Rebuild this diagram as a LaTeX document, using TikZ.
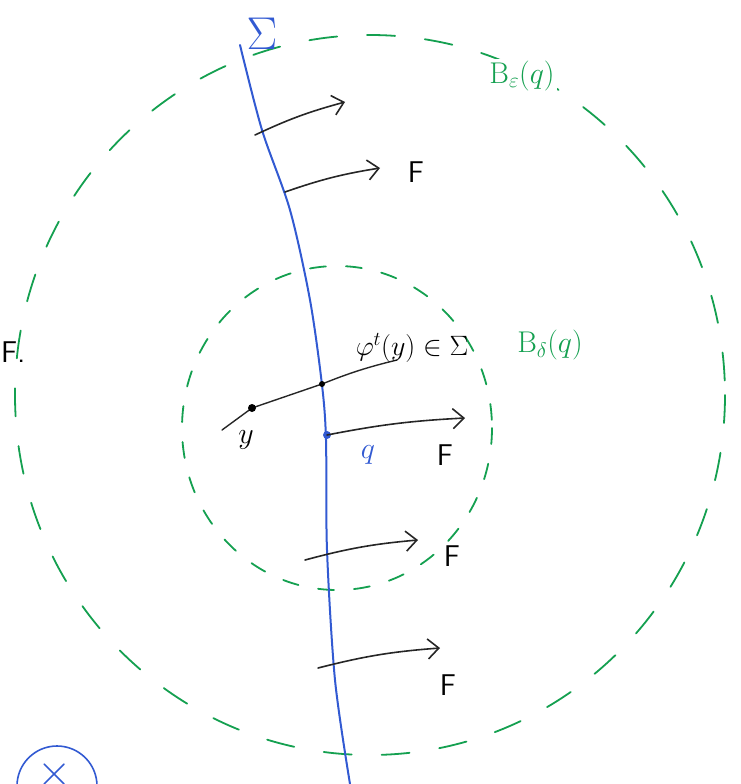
\RequirePackage{fix-cm}
\documentclass[tikz,border=0pt]{standalone}
\usetikzlibrary{arrows.meta}
\definecolor{sigblue}{RGB}{50,90,210}
\definecolor{ballgreen}{RGB}{20,160,80}
\begin{document}
\begin{tikzpicture}[x=1pt,y=-1pt,line cap=round,
  ball/.style={ballgreen,line width=1.8pt,dash pattern=on 28pt off 30pt},
  flow/.style={black!85,line width=1.6pt,-{Straight Barb[length=11pt,width=20pt]}},
  lab/.style={font=\fontsize{30}{32}\selectfont},
  flab/.style={font=\fontsize{30}{32}\selectfont\sffamily}]
\useasboundingbox (0,0) rectangle (740,784);
\clip (0,0) rectangle (740,784);
% the two balls round q
\draw[ball] (370,395) ellipse (355 and 360);
\draw[ball,dash pattern=on 16pt off 20pt] (337,428) ellipse (155 and 162);
% the surface
\draw[sigblue,line width=2pt] plot[smooth] coordinates {(240,45) (262,130) (290,210) (310,300) (322,385) (326,440) (327,550) (335,680) (350,784)};
\node[sigblue,font=\fontsize{46}{46}\selectfont] (sig) at (262,34) {$\Sigma$};
\node[ballgreen,lab,fill=white,inner sep=2pt] (beps) at (522,76) {$\mathrm{B}_\varepsilon(q)$};
\node[ballgreen,lab] (bdel) at (550,345) {$\mathrm{B}_\delta(q)$};

% points
\coordinate (y) at (252,408);
\coordinate (phy) at (322,384);
\coordinate (q) at (327,435);
\coordinate (ys) at (222,430);
\coordinate (ye) at (397,360);
\draw[black!85,line width=1.4pt] (ys) -- (y) -- (phy) to[bend left=4] (ye);
\fill (y) circle (4pt);
\fill (phy) circle (3pt);
\fill[sigblue] (q) circle (4pt);
\node[font=\fontsize{28}{30}\selectfont] (phl) at (412,348) {$\varphi^t(y)\in\Sigma$};
\node[lab] (yl) at (246,440) {$y$};
\node[lab,sigblue] (ql) at (368,455) {$q$};

% the field F
\coordinate (f1) at (255,135); \coordinate (g1) at (345,102);
\coordinate (f2) at (285,192); \coordinate (g2) at (380,168);
\coordinate (g3) at (465,418);
\coordinate (f4) at (305,560); \coordinate (g4) at (418,540);
\coordinate (f5) at (318,668); \coordinate (g5) at (440,648);
\draw[flow] (f1) to[bend left=5] (g1);
\draw[flow] (f2) to[bend left=5] (g2);
\draw[flow] (q) to[bend left=4] (g3);
\draw[flow] (f4) to[bend left=5] (g4);
\draw[flow] (f5) to[bend left=5] (g5);
\node[flab] (F2) at (416,172) {F};
\node[flab] (F3) at (445,455) {F};
\node[flab] (F4) at (452,556) {F};
\node[flab] (F5) at (448,685) {F};
\node[flab,anchor=west,inner sep=0pt] (F0) at (1,352) {F.};

% the mark in the corner
\node[sigblue,draw,circle,line width=1.6pt,minimum size=80pt] (mark) at (57,786) {};
\node[sigblue,font=\fontsize{44}{44}\selectfont] (markx) at (55,774) {$\times$};
\end{tikzpicture}
\end{document}
